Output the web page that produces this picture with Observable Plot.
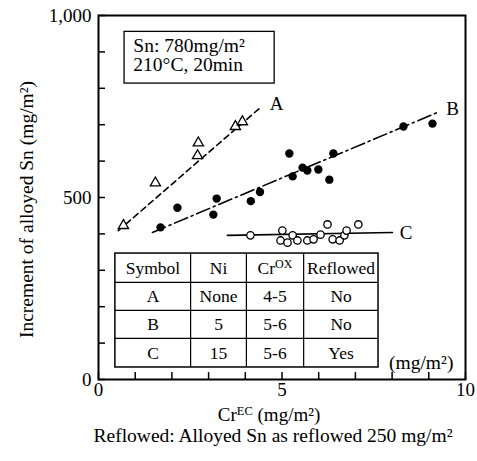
<!DOCTYPE html>
<html>
<head>
<meta charset="utf-8">
<script src="https://cdn.jsdelivr.net/npm/d3@7"></script>
<script src="https://cdn.jsdelivr.net/npm/@observablehq/plot@0.6"></script>
<style>
  html, body { margin: 0; padding: 0; background: #fff; }
  #chart svg { display: block; }
</style>
</head>
<body>
<div id="chart"></div>
<script>
// ---- Data ----
// A: open triangles (Ni none, CrOX 4-5, not reflowed)
const aX = [0.68, 1.55, 2.70, 2.72, 3.73, 3.92];
const aY = [423, 540, 615, 650, 695, 708];
// B: filled circles (Ni 5, CrOX 5-6, not reflowed)
const bX = [1.69, 2.15, 3.13, 3.22, 4.15, 4.40, 5.20, 5.29, 5.56, 5.69, 5.99, 6.29, 6.40, 8.31, 9.10];
const bY = [418, 472, 453, 497, 490, 515, 621, 558, 582, 574, 577, 549, 621, 695, 703];
// C: open circles (Ni 15, CrOX 5-6, reflowed)
const cX = [4.14, 4.96, 5.01, 5.15, 5.29, 5.42, 5.69, 5.86, 6.05, 6.24, 6.38, 6.57, 6.70, 6.76, 7.08];
const cY = [396, 382, 409, 376, 396, 382, 382, 385, 398, 426, 385, 382, 396, 409, 426];
// trend lines (end points)
const lineAX = [0.54, 4.41], lineAY = [409, 747];
const lineBX = [1.47, 9.29], lineBY = [404, 736];
const lineCX = [3.51, 8.01], lineCY = [396, 404];
// series labels
const seriesNames = ["A", "B", "C"];
const seriesLabelX = [4.85, 9.65, 8.38];
const seriesLabelY = [758, 744, 404];
// axes ticks
const xMinorTicks = [0, 1, 2, 3, 4, 5, 6, 7, 8, 9, 10];
const xLabelTicks = [0, 5, 10];
const yMinorTicks = [0, 100, 200, 300, 400, 500, 600, 700, 800, 900, 1000];
const yLabelTicks = [0, 500, 1000];
// condition box
const conditionLines = ["Sn: 780mg/m²", "210°C, 20min"];
// table
const tableHeader = ["Symbol", "Ni", "CrOX", "Reflowed"];
const tableRows = [
  ["A", "None", "4-5", "No"],
  ["B", "5", "5-6", "No"],
  ["C", "15", "5-6", "Yes"]
];

// ---- Layout helpers (data units) ----
const colEdges = [0.46, 2.51, 4.03, 5.59, 7.63];
const rowEdges = [346, 267, 190, 113, 33];
const boxX = [0.71, 4.80], boxY = [955, 813];
const condLineY = [918, 865];

const toPts = (xs, ys) => xs.map((x, i) => ({x, y: ys[i]}));
const ptsA = toPts(aX, aY), ptsB = toPts(bX, bY), ptsC = toPts(cX, cY);
const lnA = toPts(lineAX, lineAY), lnB = toPts(lineBX, lineBY), lnC = toPts(lineCX, lineCY);

const cells = [];
[tableHeader, ...tableRows].forEach((row, r) => row.forEach((t, c) => cells.push({
  t, x: (colEdges[c] + colEdges[c + 1]) / 2, y: (rowEdges[r] + rowEdges[r + 1]) / 2
})));

const F = 17;
const chart = Plot.plot({
  width: 477,
  height: 461,
  marginLeft: 98,
  marginRight: 12,
  marginTop: 15,
  marginBottom: 82,
  style: {fontFamily: "Liberation Serif, Times New Roman, serif", fontSize: F + "px", background: "#fff", color: "#000"},
  x: {domain: [0, 10]},
  y: {domain: [0, 1000]},
  marks: [
    // inward ticks
    Plot.ruleX(xMinorTicks, {x: d => d, y1: 0, y2: 19, stroke: "#000", strokeWidth: 1.5}),
    Plot.ruleY(yMinorTicks, {y: d => d, x1: 0, x2: 0.19, stroke: "#000", strokeWidth: 1.5}),
    Plot.axisX(xLabelTicks, {tickSize: 0, tickPadding: 3, label: null, fontSize: 19}),
    Plot.axisY(yLabelTicks, {tickSize: 0, tickPadding: 7, label: null, fontSize: 19, tickFormat: d3.format(",")}),
    // trend lines
    Plot.line(lnA, {x: "x", y: "y", stroke: "#000", strokeWidth: 1.6, strokeDasharray: "6,4"}),
    Plot.line(lnB, {x: "x", y: "y", stroke: "#000", strokeWidth: 1.6, strokeDasharray: "14,4,2,4"}),
    Plot.line(lnC, {x: "x", y: "y", stroke: "#000", strokeWidth: 1.6}),
    // points
    Plot.dot(ptsA, {x: "x", y: "y", symbol: "triangle", r: 3.8, stroke: "#000", strokeWidth: 1.3, fill: "#fff"}),
    Plot.dot(ptsB, {x: "x", y: "y", r: 4.2, fill: "#000", stroke: "none"}),
    Plot.dot(ptsC, {x: "x", y: "y", r: 3.7, stroke: "#000", strokeWidth: 1.3, fill: "#fff"}),
    // series labels
    Plot.text(seriesNames, {x: (d, i) => seriesLabelX[i], y: (d, i) => seriesLabelY[i], text: d => d, fontSize: 19, textAnchor: "middle"}),
    // condition box
    Plot.rect([0], {x1: boxX[0], x2: boxX[1], y1: boxY[1], y2: boxY[0], fill: "#fff", stroke: "#000", strokeWidth: 1.3}),
    Plot.text(conditionLines, {x: 0.95, y: (d, i) => condLineY[i], text: d => d, textAnchor: "start", fontSize: 19.5}),
    // table
    Plot.rect([0], {x1: colEdges[0], x2: colEdges[4], y1: rowEdges[4], y2: rowEdges[0], fill: "#fff", stroke: "#000", strokeWidth: 1.5}),
    Plot.ruleX(colEdges.slice(1, 4), {x: d => d, y1: rowEdges[4], y2: rowEdges[0], stroke: "#000", strokeWidth: 1.2}),
    Plot.ruleY(rowEdges.slice(1, 4), {y: d => d, x1: colEdges[0], x2: colEdges[4], stroke: "#000", strokeWidth: 1.2}),
    Plot.text(cells, {x: "x", y: "y", text: "t", fontSize: 17.5, textAnchor: "middle"}),
    // unit note
    Plot.text(["(mg/m²)"], {x: 9.67, y: 47, text: d => d, textAnchor: "end", fontSize: 19.5}),
    // axis titles and caption
    Plot.text(["CrEC (mg/m²)"], {frameAnchor: "bottom", dx: -13, dy: 41, text: d => d, fontSize: 19}),
    Plot.text(["Reflowed: Alloyed Sn as reflowed 250 mg/m²"], {frameAnchor: "bottom", dx: -9, dy: 62, text: d => d, fontSize: 19.5}),
    Plot.text(["Increment of alloyed Sn (mg/m²)"], {frameAnchor: "left", dx: -72, dy: 12, rotate: -90, textAnchor: "middle", text: d => d, fontSize: 19.5}),
    Plot.frame({stroke: "#000", strokeWidth: 2})
  ]
});

// superscripts
d3.select(chart).selectAll("text").each(function() {
  const el = d3.select(this);
  const t = this.textContent;
  if (t === "CrOX") {
    el.text("Cr");
    el.append("tspan").attr("dy", "-6").attr("font-size", "12px").text("OX");
  } else if (t === "CrEC (mg/m²)") {
    el.text("Cr");
    el.append("tspan").attr("dy", "-6").attr("font-size", "12.5px").text("EC");
    el.append("tspan").attr("dy", "6").text(" (mg/m²)");
  }
});

document.getElementById("chart").appendChild(chart);
</script>
</body>
</html>
